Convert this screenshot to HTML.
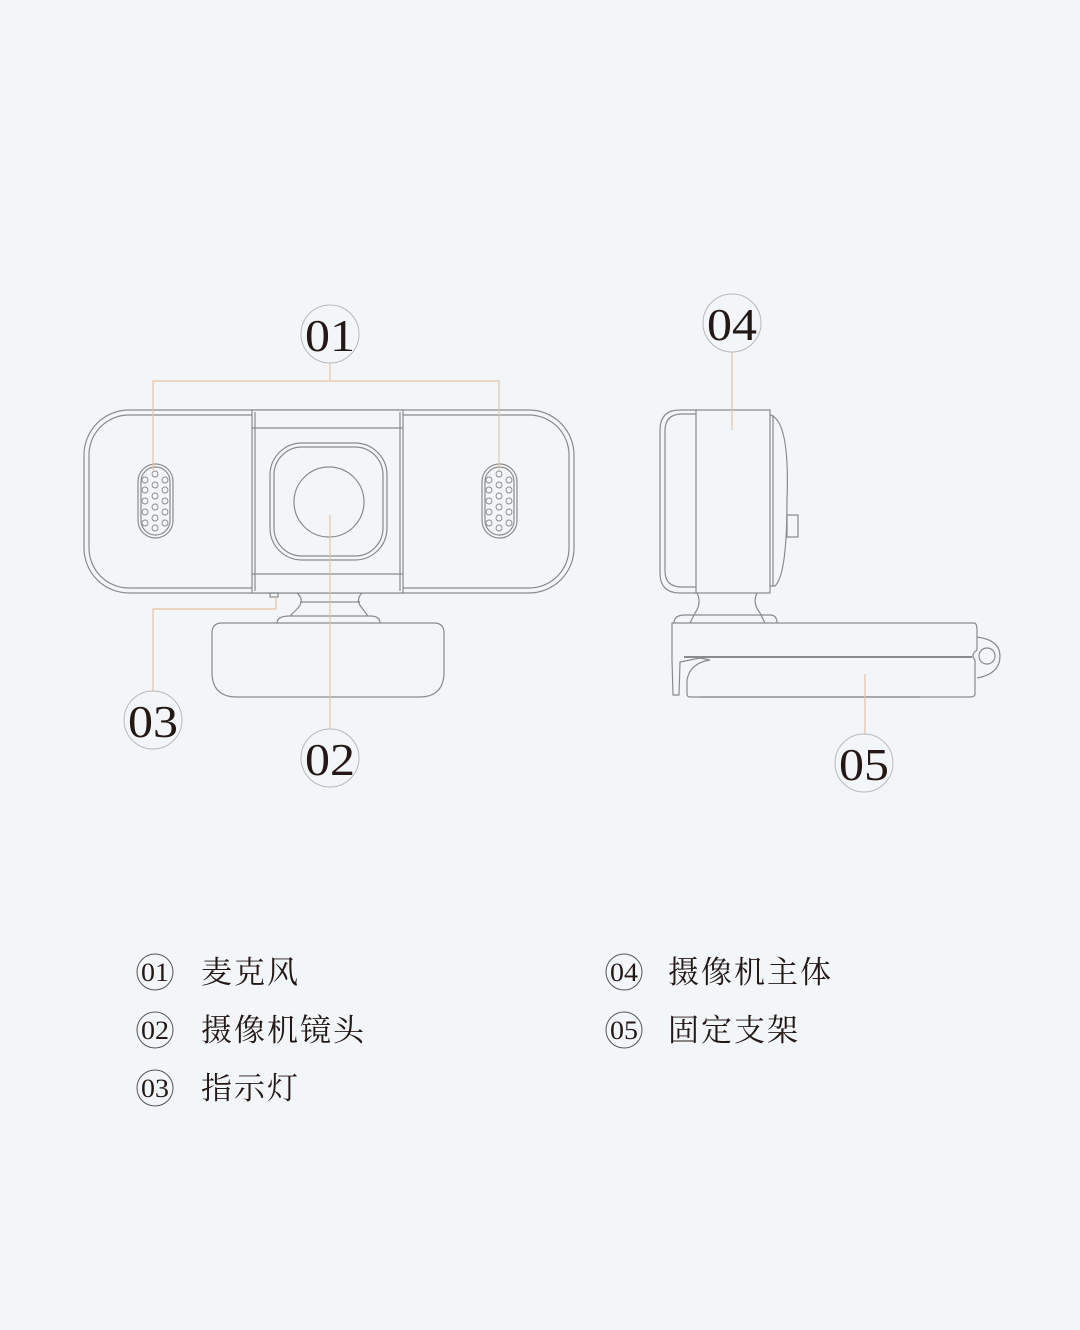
<!DOCTYPE html>
<html><head><meta charset="utf-8"><style>
html,body{margin:0;padding:0;background:#f3f6f9;}
svg{display:block}
.n{font-family:"Liberation Serif",serif;fill:#231815;}
.c{font-family:"Liberation Serif","Noto Serif CJK SC",serif;fill:#231815;}
</style></head><body>
<svg width="1080" height="1330" viewBox="0 0 1080 1330" xmlns="http://www.w3.org/2000/svg">
<rect width="1080" height="1330" fill="#f3f6f9"/>
<g fill="none" stroke="#8a8a8a" stroke-width="1.2">
<rect x="84" y="410" width="490" height="183" rx="45"/>
<rect x="89" y="415" width="480" height="173" rx="40"/>
<rect x="252" y="410" width="151" height="183" fill="#f3f6f9"/>
<line x1="252" y1="428" x2="403" y2="428"/>
<line x1="252" y1="574" x2="403" y2="574"/>
<line x1="255" y1="412" x2="255" y2="591"/>
<line x1="400" y1="412" x2="400" y2="591"/>
<rect x="270" y="443" width="117" height="117" rx="32"/>
<rect x="274" y="447" width="109" height="109" rx="28"/>
<circle cx="329" cy="502" r="35"/>
<rect x="138" y="464" width="35" height="74" rx="17.5"/>
<rect x="141" y="467" width="29" height="68" rx="14.5"/>
<rect x="482" y="464" width="35" height="74" rx="17.5"/>
<rect x="485" y="467" width="29" height="68" rx="14.5"/>
<g stroke-width="0.9">
<g id="holes">
<circle cx="145" cy="480" r="3"/><circle cx="155" cy="474" r="3"/><circle cx="165" cy="480" r="3"/>
<circle cx="145" cy="490" r="3"/><circle cx="155" cy="485" r="3"/><circle cx="165" cy="490" r="3"/>
<circle cx="145" cy="501" r="3"/><circle cx="155" cy="496" r="3"/><circle cx="165" cy="501" r="3"/>
<circle cx="145" cy="512" r="3"/><circle cx="155" cy="507" r="3"/><circle cx="165" cy="512" r="3"/>
<circle cx="145" cy="523" r="3"/><circle cx="155" cy="518" r="3"/><circle cx="165" cy="523" r="3"/>
<circle cx="155" cy="528" r="3"/>
</g>
<use href="#holes" transform="translate(344,0)"/>
</g>
<rect x="270" y="593" width="8" height="4"/>
<path d="M297 593 Q305 600 298 608 L290 616 M362 593 Q355 600 362 608 L368 616"/>
<line x1="300" y1="602" x2="360" y2="602"/>
<path d="M277 623 Q277 616 290 616 L370 616 Q380 616 380 623"/>
<path d="M222 623 L434 623 Q444 623 444 633 L444 672 Q444 697 419 697 L237 697 Q212 697 212 672 L212 633 Q212 623 222 623 Z"/>
<path d="M697 410 L680 410 Q660 410 660 430 L660 573 Q660 593 680 593 L697 593"/>
<path d="M696 414 L682 414 Q665 414 665 431 L665 571 Q665 587 682 587 L696 587"/>
<rect x="696" y="410" width="74" height="183"/>
<path d="M770 415 Q790 420 787 500 Q787 575 775 586 L770 586"/>
<line x1="773" y1="415" x2="773" y2="586"/>
<rect x="787" y="515" width="11" height="22"/>
<path d="M697 593 Q702 603 695 613 L690 623 M757 593 Q752 603 760 613 L765 623"/>
<path d="M674 623 Q674 615 685 615 L770 615 Q777 615 777 623"/>
<path d="M672 623 L974 623 Q977 623 977 630 L977 650 Q970 655 975 660 L975 694 Q975 697 970 697 L690 697 Q687 697 687 694 L687 680 Q690 663 710 660 L700 658 L690 660 L680 662 L679 695 L673 695 L672 660 Z"/>
<line x1="684" y1="657" x2="972" y2="657" stroke-width="2"/>
<line x1="700" y1="697" x2="920" y2="697"/>
<path d="M977 637 Q1000 640 1000 656 Q1000 674 977 678"/>
<circle cx="987" cy="656" r="8"/>
</g>
<g fill="none" stroke="#e6c3a6" stroke-width="1.2">
<path d="M330 363 V381 M153 470 V381 H499 V470"/>
<path d="M276 597 V609 H153 V691"/>
<path d="M330 515 V729"/>
<path d="M732 352 V430"/>
<path d="M865 674 V734"/>
</g>
<g fill="none" stroke="#b8b8b8" stroke-width="1">
<circle cx="330" cy="334" r="29"/>
<circle cx="153" cy="720" r="29"/>
<circle cx="330" cy="758" r="29"/>
<circle cx="732" cy="323" r="29"/>
<circle cx="864" cy="763" r="29"/>
</g>
<g class="n" font-size="46" text-anchor="middle">
<text x="330" y="351" textLength="50" lengthAdjust="spacingAndGlyphs">01</text>
<text x="153" y="737" textLength="50" lengthAdjust="spacingAndGlyphs">03</text>
<text x="330" y="775" textLength="50" lengthAdjust="spacingAndGlyphs">02</text>
<text x="732" y="340" textLength="50" lengthAdjust="spacingAndGlyphs">04</text>
<text x="864" y="780" textLength="50" lengthAdjust="spacingAndGlyphs">05</text>
</g>
<g fill="none" stroke="#555" stroke-width="1">
<circle cx="155" cy="972" r="18"/><circle cx="155" cy="1030" r="18"/><circle cx="155" cy="1088" r="18"/>
<circle cx="624" cy="972" r="18"/><circle cx="624" cy="1030" r="18"/>
</g>
<g class="n" font-size="26" text-anchor="middle">
<text x="155" y="981" textLength="28" lengthAdjust="spacingAndGlyphs">01</text>
<text x="155" y="1039" textLength="28" lengthAdjust="spacingAndGlyphs">02</text>
<text x="155" y="1097" textLength="28" lengthAdjust="spacingAndGlyphs">03</text>
<text x="624" y="981" textLength="28" lengthAdjust="spacingAndGlyphs">04</text>
<text x="624" y="1039" textLength="28" lengthAdjust="spacingAndGlyphs">05</text>
</g>
<g class="c" font-size="31" letter-spacing="2">
<text x="201" y="983">麦克风</text>
<text x="201" y="1041">摄像机镜头</text>
<text x="201" y="1099">指示灯</text>
<text x="668" y="983">摄像机主体</text>
<text x="668" y="1041">固定支架</text>
</g>
</svg>
</body></html>
